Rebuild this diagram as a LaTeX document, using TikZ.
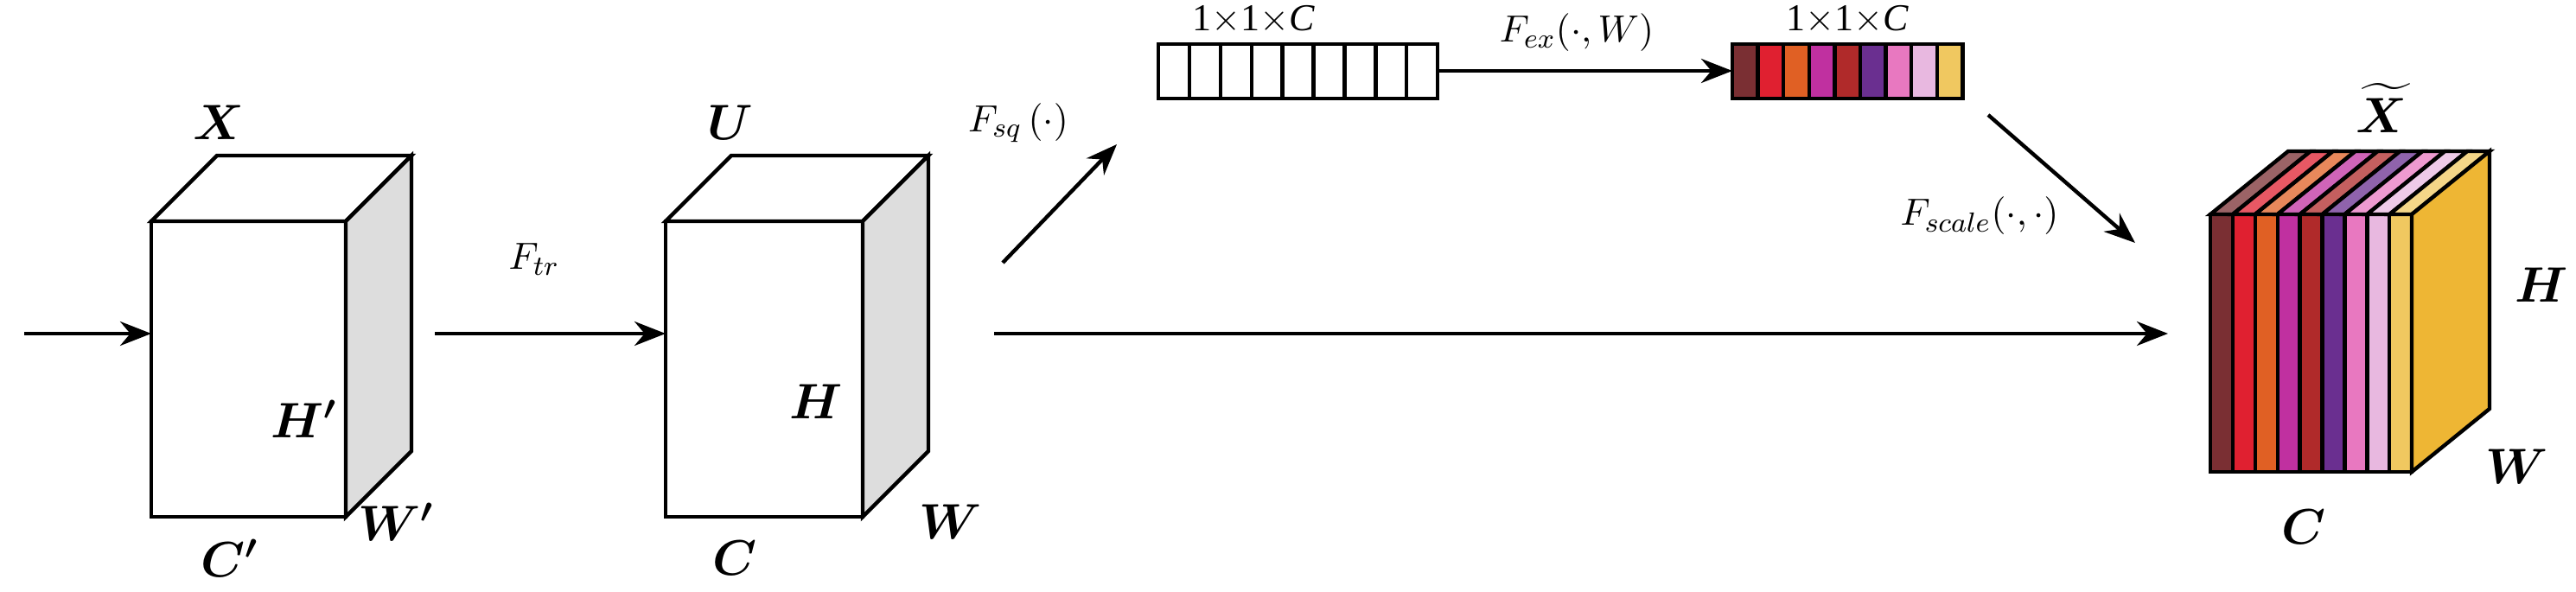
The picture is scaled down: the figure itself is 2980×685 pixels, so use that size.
\documentclass[tikz,border=0pt]{standalone}
\usepackage{amsmath,amssymb,bm}
\usepackage{fontspec}
\setmainfont{Liberation Serif}
\usetikzlibrary{arrows.meta}
\tikzset{every picture/.style={line width=1.1pt}}
\tikzset{
  flow/.style={-{Stealth[length=9pt,width=7pt]}},
  dimlbl/.style={font=\fontsize{14}{16}\selectfont\bfseries\itshape, inner sep=0.75pt},
  oplbl/.style={font=\fontsize{11}{13}\selectfont\itshape, inner sep=0.75pt},
  sizelbl/.style={font=\fontsize{11}{13}\selectfont, inner sep=0.75pt}
}
\definecolor{cA}{RGB}{122,47,51}
\definecolor{cB}{RGB}{224,32,48}
\definecolor{cC}{RGB}{224,96,36}
\definecolor{cD}{RGB}{192,48,160}
\definecolor{cE}{RGB}{176,42,42}
\definecolor{cF}{RGB}{106,47,144}
\definecolor{cG}{RGB}{232,120,192}
\definecolor{cH}{RGB}{232,184,224}
\definecolor{cI}{RGB}{240,200,96}
\definecolor{cSide}{RGB}{238,182,52}
\begin{document}
\begin{tikzpicture}[x=0.25pt,y=0.25pt,yscale=-1,xscale=1]
\useasboundingbox (0,0) rectangle (2980,685);

%Shape: Cube X
\draw [fill=white] (175,256) -- (400,256) -- (400,598) -- (175,598) -- cycle ;
\draw [fill=white] (175,256) -- (251,180) -- (476,180) -- (400,256) -- cycle ;
\draw [fill={rgb,255:red,221;green,221;blue,221}] (400,256) -- (476,180) -- (476,522) -- (400,598) -- cycle ;
%Shape: Cube U
\draw [fill=white] (770,256) -- (998,256) -- (998,598) -- (770,598) -- cycle ;
\draw [fill=white] (770,256) -- (846,180) -- (1074,180) -- (998,256) -- cycle ;
\draw [fill={rgb,255:red,221;green,221;blue,221}] (998,256) -- (1074,180) -- (1074,522) -- (998,598) -- cycle ;

%Shape: white vector
\foreach \i in {0,...,8}
  \draw [fill=white] (1340+\i*35.9,51) rectangle (1375.9+\i*35.9,114) ;
%Shape: coloured vector
\foreach \c [count=\i from 0] in {cA,cB,cC,cD,cE,cF,cG,cH,cI}
  \draw [fill=\c] (2004+\i*29.6,51) rectangle (2033.6+\i*29.6,114) ;

%Shape: coloured cube
\foreach \c [count=\i from 0] in {cA,cB,cC,cD,cE,cF,cG,cH,cI} {
  \draw [fill=\c] (2557+\i*25.9,248) rectangle (2582.9+\i*25.9,546) ;
  \draw [fill=\c!75!white] (2557+\i*25.9,248) -- (2647+\i*25.9,175) -- (2672.9+\i*25.9,175) -- (2582.9+\i*25.9,248) -- cycle ;
}
\draw [fill=cSide] (2790,248) -- (2880,175) -- (2880,473) -- (2790,546) -- cycle ;

% Anchors
\coordinate (in) at (28,386) ;
\coordinate (xl) at (175,386) ;
\coordinate (xr) at (503,386) ;
\coordinate (ul) at (770,386) ;
\coordinate (ur) at (1150,386) ;
\coordinate (sqa) at (1160,304) ;
\coordinate (sqb) at (1292,167) ;
\coordinate (vr) at (1663,82) ;
\coordinate (cl) at (2004,82) ;
\coordinate (sca) at (2300,133) ;
\coordinate (scb) at (2470,281) ;
\coordinate (xt) at (2508,386) ;

%Straight Lines
\draw [flow] (in) -- (xl) ;
\draw [flow] (xr) -- (ul) ;
\draw [flow] (sqa) -- (sqb) ;
\draw [flow] (vr) -- (cl) ;
\draw [flow] (sca) -- (scb) ;
\draw [flow] (ur) -- (xt) ;

% Text Node
\node (lX) [dimlbl] at (253,142) {$\bm{X}$};
\node (lHp) [dimlbl] at (352,485) {$\bm{H'}$};
\node (lCp) [dimlbl] at (266,646) {$\bm{C'}$};
\node (lWp) [dimlbl] at (458,604) {$\bm{W'}$};
\node (lU) [dimlbl] at (845,142) {$\bm{U}$};
\node (lH) [dimlbl] at (944,465) {$\bm{H}$};
\node (lC) [dimlbl] at (850,646) {$\bm{C}$};
\node (lW) [dimlbl] at (1100,604) {$\bm{W}$};
\node (lXt) [dimlbl] at (2755,125) {$\bm{\widetilde{X}}$};
\node (lH2) [dimlbl] at (2940,330) {$\bm{H}$};
\node (lW2) [dimlbl] at (2912,540) {$\bm{W}$};
\node (lC2) [dimlbl] at (2665,610) {$\bm{C}$};
% Text Node
\node (ftr) [oplbl] at (618,300) {$F_{tr}$};
\node (fsq) [oplbl] at (1178,142) {$F_{sq}\,(\cdot)$};
\node (fex) [oplbl] at (1824,38) {$F_{ex}(\cdot,W)$};
\node (fsc) [oplbl] at (2290,250) {$F_{scale}(\cdot,\cdot)$};
% Text Node
\node (s1) [sizelbl, anchor=south] at (1450,44) {1${\times}$1${\times}$\textit{C}};
\node (s2) [sizelbl, anchor=south] at (2137,44) {1${\times}$1${\times}$\textit{C}};
\end{tikzpicture}
\end{document}
